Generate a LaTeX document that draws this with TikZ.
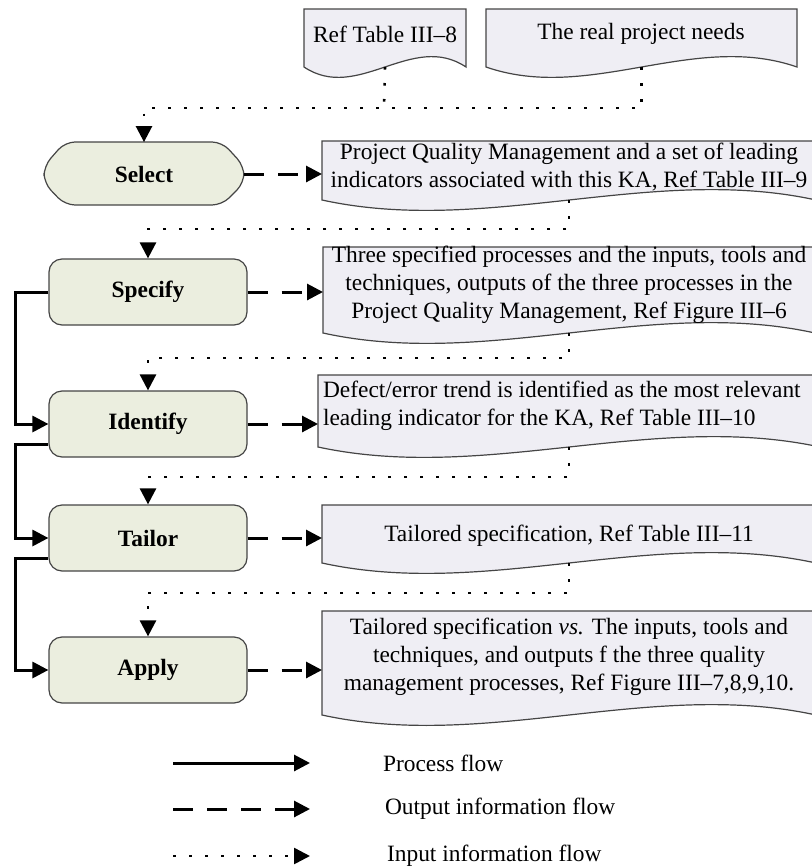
\documentclass[tikz,border=0pt]{standalone}
\usepackage{fontspec}
\setmainfont{Liberation Serif}
\usetikzlibrary{positioning,calc,arrows.meta}

\definecolor{procfill}{HTML}{EBEEDF}
\definecolor{docfill}{HTML}{EFEEF4}
\definecolor{edge}{HTML}{454545}

\tikzset{
  procbox/.style={draw=edge, fill=procfill, line width=0.6pt, rounded corners=6.5pt,
    minimum width=99pt, minimum height=33pt, font=\fontsize{11.7}{14}\selectfont\bfseries},
  docline/.style={draw=edge, fill=docfill, line width=0.6pt},
  doctext/.style={align=center, font=\fontsize{11.7}{14}\selectfont},
  procflow/.style={line width=1.5pt, -{Triangle[length=8pt,width=8pt]}},
  outflow/.style={line width=1.5pt, dash pattern=on 10pt off 7pt, -{Triangle[length=8pt,width=8pt]}},
  inflow/.style={line width=1.3pt, dash pattern=on 1.3pt off 6.7pt, -{Triangle[length=8pt,width=8pt]}},
  inflowplain/.style={line width=1.3pt, dash pattern=on 1.3pt off 6.7pt},
}

% document symbol: name, left x, top y, right x, bottom y
\newcommand{\docshape}[5]{%
  \draw[docline] (#2,#3) -- (#4,#3) -- (#4,#5)
    .. controls ($(#2,#5)!0.667!(#4,#5)+(0,-36)$) and ($(#2,#5)!0.333!(#4,#5)+(0,36)$) .. (#2,#5) -- cycle;
  \coordinate (#1L) at (#2,#3);
  \coordinate (#1B) at ($(#2,#5)!0.5!(#4,#5)$);}

\begin{document}
\begin{tikzpicture}[x=0.5pt, y=-0.5pt]
\useasboundingbox (0,0) rectangle (811,868);

% documents
\docshape{refdoc}{304}{9}{466}{67}
\docshape{needdoc}{486}{9}{797}{67}
\docshape{seldoc}{322}{141}{816}{200}
\docshape{specdoc}{323}{247}{815}{333}
\docshape{iddoc}{318}{375}{820}{447}
\docshape{tldoc}{322}{505}{816}{563}
\docshape{apdoc}{322}{611}{816}{715}

\node[doctext] (reftext) at (385,34) {Ref Table III--8};
\node[doctext] (needtext) at (641,34) {The real project needs};
\node[doctext] (seltext) at (569,167) {Project Quality Management and a set of leading\\indicators associated with this KA, Ref Table III--9};
\node[doctext] (spectext) at (569,285) {Three specified processes and the inputs, tools and\\techniques, outputs of the three processes in the\\Project Quality Management, Ref Figure III--6};
\node[doctext, align=left, anchor=west] (idtext) at (316,406) {Defect/error trend is identified as the most relevant\\leading indicator for the KA, Ref Table III--10};
\node[doctext] (tltext) at (569,536) {Tailored specification, Ref Table III--11};
\node[doctext] (aptext) at (569,657) {Tailored specification \textit{vs.} The inputs, tools and\\techniques, and outputs f the three quality\\management processes, Ref Figure III--7,8,9,10.};

% process steps
\draw[docline, fill=procfill, rounded corners=5pt] (65,142) -- (222,142) -- (244,166) -- (244,183)
  -- (222,205) -- (65,205) -- (44,183) -- (44,166) -- cycle;
\node[font=\fontsize{11.7}{14}\selectfont\bfseries, minimum width=100pt, minimum height=31.5pt] (select) at (144,174) {Select};
\node[procbox] (specify) at (148,292) {Specify};
\node[procbox] (identify) at (148,424) {Identify};
\node[procbox] (tailor) at (148,538) {Tailor};
\node[procbox] (apply) at (148,670) {Apply};

% input information flow
\coordinate (topjoin) at (384,108);
\draw[inflowplain] (refdocB) -- (topjoin);
\draw[inflow] (needdocB) |- (topjoin) -| (select.north);
\draw[inflow] (seldocB) -- ++(0,29) -| (specify.north);
\draw[inflow] (specdocB) -- ++(0,25) -| (identify.north);
\draw[inflow] (iddocB) -- ++(0,30) -| (tailor.north);
\draw[inflow] (tldocB) -- ++(0,30) -| (apply.north);

% output information flow
\draw[outflow] (select.east) -- (select.east -| seldocL);
\draw[outflow] (specify.east) -- (specify.east -| specdocL);
\draw[outflow] (identify.east) -- (identify.east -| iddocL);
\draw[outflow] (tailor.east) -- (tailor.east -| tldocL);
\draw[outflow] (apply.east) -- (apply.east -| apdocL);

% process flow
\draw[procflow] (specify.west) -- ++(-33,0) |- (identify.west);
\draw[procflow] ([yshift=-10pt]identify.west) -- ++(-33,0) |- (tailor.west);
\draw[procflow] ([yshift=-10pt]tailor.west) -- ++(-33,0) |- (apply.west);

% legend
\coordinate (lgpa) at (173,763);
\coordinate (lgpb) at (310,763);
\coordinate (lgoa) at (173,809);
\coordinate (lgob) at (310,809);
\coordinate (lgia) at (173,856);
\coordinate (lgib) at (310,856);
\draw[procflow] (lgpa) -- (lgpb);
\draw[outflow] (lgoa) -- (lgob);
\draw[inflow] (lgia) -- (lgib);
\node[doctext, anchor=west] (lgptext) at (376,763) {Process flow};
\node[doctext, anchor=west] (lgotext) at (378,809) {Output information flow};
\node[doctext, anchor=west] (lgitext) at (380,856) {Input information flow};
\end{tikzpicture}
\end{document}
